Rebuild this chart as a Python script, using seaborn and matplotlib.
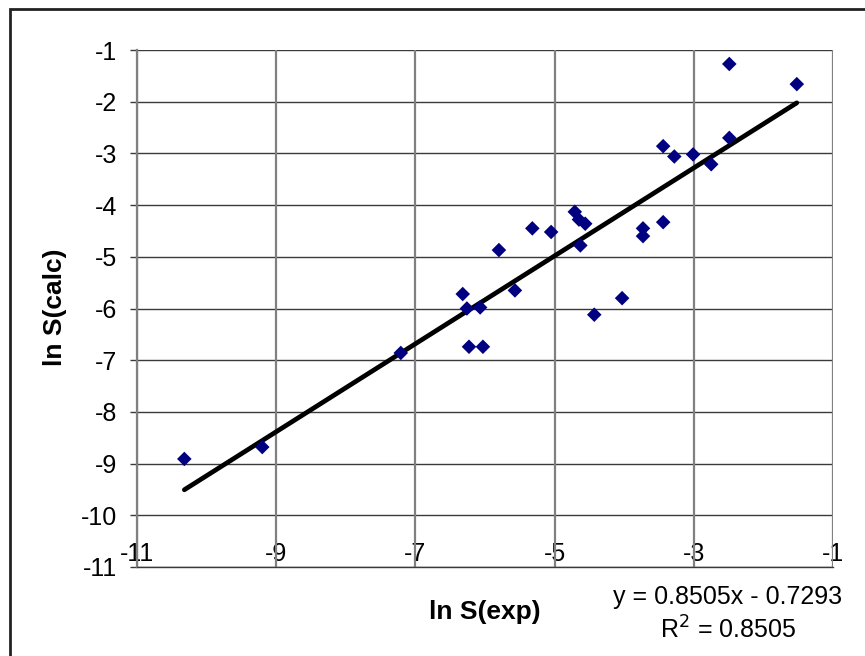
import numpy as np
import pandas as pd
import matplotlib
matplotlib.use("Agg")
import matplotlib.pyplot as plt
import seaborn as sns
from matplotlib.patches import Rectangle

# ---- data ----
ln_s_exp = [-10.32, -9.20, -7.21, -6.32, -6.26, -6.23, -6.07, -6.03, -5.57, -5.80,
            -5.32, -5.05, -4.71, -4.65, -4.56, -4.63, -4.43, -4.03, -3.73, -3.73,
            -3.44, -3.44, -3.28, -3.01, -2.75, -2.49, -2.49, -1.52]
ln_s_calc = [-8.91, -8.68, -6.86, -5.72, -6.00, -6.74, -5.98, -6.74, -5.65, -4.87,
             -4.45, -4.52, -4.13, -4.28, -4.36, -4.78, -6.12, -5.80, -4.60, -4.45,
             -4.33, -2.86, -3.06, -3.02, -3.21, -2.70, -1.27, -1.66]
slope = 0.8505
intercept = -0.7293
r_squared = 0.8505
x_ticks = [-11, -9, -7, -5, -3, -1]
y_ticks = [-1, -2, -3, -4, -5, -6, -7, -8, -9, -10, -11]

df = pd.DataFrame({"x": ln_s_exp, "y": ln_s_calc})
xs = np.array([min(ln_s_exp), max(ln_s_exp)])
trend = pd.DataFrame({"x": xs, "y": slope * xs + intercept})

sns.set_style("white")
plt.rcParams["font.family"] = ["Liberation Sans", "DejaVu Sans"]
for key in ["text.color", "axes.labelcolor", "xtick.color", "ytick.color"]:
    plt.rcParams[key] = "black"

W, H = 865, 656
fig = plt.figure(figsize=(W / 100, H / 100), dpi=100)
ax = fig.add_axes([137 / W, 1 - 567 / H, (833 - 137) / W, (567 - 50) / H])

ax.set_xlim(-11, -1)
ax.set_ylim(-11, -1)

# gridlines
for yv in y_ticks:
    ax.axhline(yv, color="#3a3a3a", lw=1.0, zorder=1)
for xv in x_ticks:
    ax.axvline(xv, color="#808080", lw=1.6, zorder=1)

sns.lineplot(data=trend, x="x", y="y", ax=ax, color="black", lw=3.4, zorder=3)
sns.scatterplot(data=df, x="x", y="y", ax=ax, marker="D", s=55, color="#000080",
                edgecolor="none", linewidth=0, zorder=4)

for sp in ax.spines.values():
    sp.set_visible(False)
ax.spines["left"].set_visible(True)
ax.spines["left"].set_color("#808080")
ax.spines["left"].set_linewidth(1.6)
ax.spines["bottom"].set_visible(True)
ax.spines["bottom"].set_color("#3a3a3a")
ax.spines["bottom"].set_linewidth(1.0)

ax.set_yticks(y_ticks)
ax.set_yticklabels([str(v) for v in y_ticks])
ax.set_xticks(x_ticks)
ax.set_xticklabels([str(v) for v in x_ticks])
ax.tick_params(axis="y", direction="out", length=5, width=1, color="#3a3a3a",
               labelsize=18, pad=9, left=True, labelcolor="black")
ax.tick_params(axis="x", length=0, labelsize=18, pad=-1, bottom=True,
               labelcolor="black")
for lab in ax.get_xticklabels():
    lab.set_verticalalignment("bottom")
ax.set_xlabel("")
ax.set_ylabel("")

fig.text(485 / W, 1 - 612 / H, "ln S(exp)", ha="center", va="center",
         fontsize=19, fontweight="bold", color="black")
fig.text(55 / W, 1 - 307 / H, "ln S(calc)", ha="center", va="center",
         fontsize=19, fontweight="bold", rotation=90, color="black")
fig.text(728 / W, 1 - 597 / H, f"y = {slope:.4f}x - {abs(intercept):.4f}",
         ha="center", va="center", fontsize=18, color="black")
fig.text(728 / W, 1 - 630 / H, f"R$^2$ = {r_squared:.4f}",
         ha="center", va="center", fontsize=18, color="black")

# outer chart border
fig.patches.append(Rectangle((10 / W, -0.05), 1.1, 1 - 9 / H + 0.05,
                             transform=fig.transFigure, fill=False,
                             edgecolor="#222222", lw=2.0))

fig.savefig("out.png", dpi=100)
